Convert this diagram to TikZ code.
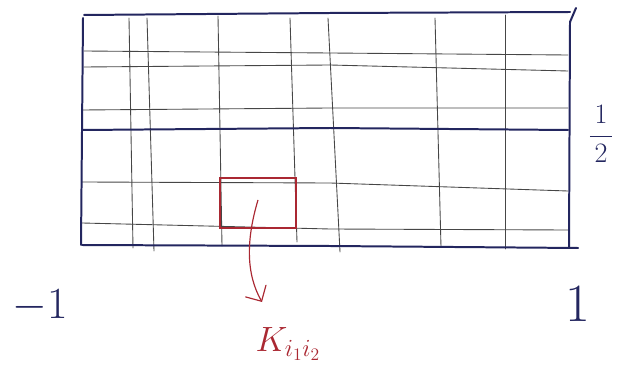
\RequirePackage{fix-cm}
\documentclass[tikz,border=0pt]{standalone}
\usepackage{xcolor}
\usetikzlibrary{arrows.meta}
\definecolor{tinta}{RGB}{35,38,95}
\definecolor{lapiz}{RGB}{70,70,70}
\definecolor{rojo}{RGB}{170,40,50}
\begin{document}
\begin{tikzpicture}[x=0.03cm, y=-0.03cm,
    marco/.style={tinta, line width=1.7pt, line cap=round},
    malla/.style={lapiz, line width=0.75pt, line cap=round},
    celda/.style={rojo, line width=1pt}]
    \useasboundingbox (0,0) rectangle (618,371);
    % Malla horizontal
    \draw[malla] (84,51) -- (330,53) -- (568,55);
    \draw[malla] (84,67) -- (330,65) -- (568,71);
    \draw[malla] (82,110) -- (330,108) -- (568,108);
    \draw[malla] (82,182) -- (330,183) -- (568,191);
    \draw[malla] (82,223) -- (330,229) -- (568,230);
    % Malla vertical
    \draw[malla] (129,18) -- (133,248);
    \draw[malla] (147,18) -- (154,251);
    \draw[malla] (218,16) -- (222,246);
    \draw[malla] (290,18) -- (297,242);
    \draw[malla] (328,18) -- (340,252);
    \draw[malla] (435,18) -- (441,247);
    \draw[malla] (505,15) -- (505,249);
    % Marco
    \draw[marco] (84,15) -- (330,13) -- (570,12);
    \draw[marco] (83,18) -- (81,245);
    \draw[marco] (82,245) -- (330,246) -- (578,248);
    \draw[marco] (576,8) -- (570,22) -- (569,247);
    \draw[marco] (82,130) -- (330,128) -- (568,130);
    % Celda K
    \draw[celda] (220,178) rectangle (296,228);
    \coordinate (kini) at (258,200);
    \coordinate (kfin) at (262,302);
    \draw[celda, -{Straight Barb[length=10pt,width=20pt,line cap=round]}] (kini) .. controls (246,240) and (246,274) .. (kfin);
    \node[rojo, font=\fontsize{30}{34}\selectfont] (kij) at (288,344) {$K_{i_1 i_2}$};
    % Valores
    \node[tinta, font=\fontsize{38}{40}\selectfont] (menosuno) at (40,306) {$-1$};
    \node[tinta, font=\fontsize{46}{50}\selectfont] (uno) at (578,304) {$1$};
    \node[tinta, font=\fontsize{24}{28}\selectfont] (medio) at (601,134) {$\displaystyle\frac{\,1\,}{\,2\,}$};
\end{tikzpicture}
\end{document}
